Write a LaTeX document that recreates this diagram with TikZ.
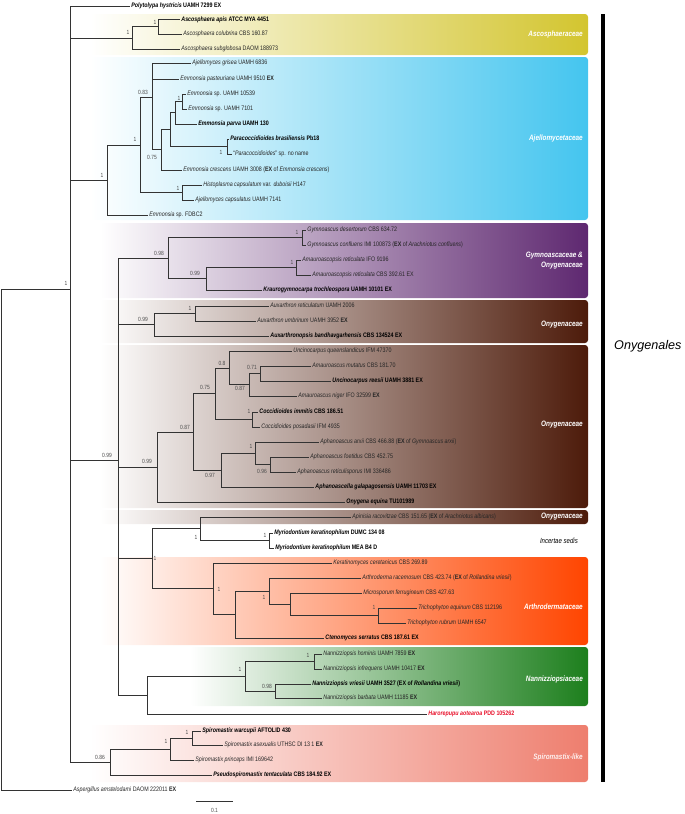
\documentclass[tikz,border=0pt]{standalone}
\usepackage{fontspec}
\setmainfont{Liberation Sans}[FakeStretch=0.82]
\newfontfamily\plainsans{Liberation Sans}
\definecolor{cYel}{HTML}{D3C52F}
\definecolor{cBlue}{HTML}{44C5EF}
\definecolor{cPur}{HTML}{5E2870}
\definecolor{cBrn}{HTML}{4D1B0A}
\definecolor{cOra}{HTML}{FF4500}
\definecolor{cGrn}{HTML}{1D7F1D}
\definecolor{cSal}{HTML}{EE7E6E}
\definecolor{cRed}{HTML}{E8102A}
\definecolor{cLine}{HTML}{333333}
\newcommand{\spc}[1]{\textit{#1}}
\newcommand{\exb}{\textbf{EX}}
\tikzset{
  tip/.style={anchor=west, inner xsep=1.2pt, inner ysep=0pt, text height=4.6pt, text depth=1.4pt,
              font=\fontsize{6.5}{7}\selectfont, text=black!85},
  tipb/.style={tip, font=\fontsize{6.5}{7}\selectfont\bfseries, text=black},
  nl/.style={inner sep=0pt, font=\fontsize{6}{6}\selectfont, text=black!70},
  br/.style={draw=cLine, line width=0.65pt},
  fam/.style={anchor=east, inner sep=0pt, text=white, align=right,
              font=\fontsize{7.8}{9.5}\selectfont\bfseries\itshape},
  famshade/.style={rounded corners=3pt, left color=white, middle color=#1!40, right color=#1}
}
\begin{document}
\begin{tikzpicture}[x=1pt,y=-1pt]
\useasboundingbox (0,0) rectangle (685,814);
% ---------- coloured boxes ----------
\shade[famshade=cYel] (90,14) rectangle (588,55);
\shade[famshade=cBlue] (90,57) rectangle (588,220);
\shade[famshade=cPur] (100,223) rectangle (588,298);
\shade[famshade=cBrn] (100,300) rectangle (588,343);
\shade[famshade=cBrn] (100,345) rectangle (588,508);
\shade[famshade=cBrn] (100,510) rectangle (588,524);
\shade[famshade=cOra] (100,557) rectangle (588,645);
\shade[rounded corners=3pt, left color=white, middle color=cGrn!40, right color=cGrn] (190,647) rectangle (588,706);
\shade[famshade=cSal] (90,725) rectangle (588,782);
% ---------- bar ----------
\fill[black] (601,14) rectangle (605,782);
% ---------- tips ----------
\node[tipb] (t01) at (130,6) {\spc{Polytolypa hystricis} UAMH 7299 EX};
\node[tipb] (t02) at (180,19.5) {\spc{Ascosphaera apis} ATCC MYA 4451};
\node[tip] (t03) at (182,34) {\spc{Ascosphaera colubrina} CBS 160.87};
\node[tip] (t04) at (180,49) {\spc{Ascosphaera subglobosa} DAOM 188973};
\node[tip] (t05) at (191,63) {\spc{Ajellomyces grisea} UAMH 6836};
\node[tip] (t06) at (179,79) {\spc{Emmonsia pasteuriana} UAMH 9510 \exb};
\node[tip] (t07) at (186,94) {\spc{Emmonsia} sp. UAMH 10539};
\node[tip] (t08) at (187,109) {\spc{Emmonsia} sp. UAMH 7101};
\node[tipb] (t09) at (197,124) {\spc{Emmonsia parva} UAMH 130};
\node[tipb] (t10) at (229,139) {\spc{Paracoccidioides brasiliensis} Pb18};
\node[tip] (t11) at (232,154) {“\spc{Paracoccidioides}” sp. no name};
\node[tip] (t12) at (182,170) {\spc{Emmonsia crescens} UAMH 3008 (\exb{} of \spc{Emmonsia crescens})};
\node[tip] (t13) at (202,185) {\spc{Histoplasma capsulatum} var. \spc{duboisii} H147};
\node[tip] (t14) at (194,200) {\spc{Ajellomyces capsulatus} UAMH 7141};
\node[tip] (t15) at (148,215) {\spc{Emmonsia} sp. FDBC2};
\node[tip] (t16) at (306,230) {\spc{Gymnoascus desertorum} CBS 634.72};
\node[tip] (t17) at (306,245) {\spc{Gymnoascus confluens} IMI 100873 (\exb{} of \spc{Arachniotus confluens})};
\node[tip] (t18) at (301,260) {\spc{Amauroascopsis reticulata} IFO 9196};
\node[tip] (t19) at (311,275) {\spc{Amauroascopsis reticulata} CBS 392.61 EX};
\node[tipb] (t20) at (262,290) {\spc{Kraurogymnocarpa trochleospora} UAMH 10101 EX};
\node[tip] (t21) at (269,306) {\spc{Auxarthron reticulatum} UAMH 2006};
\node[tip] (t22) at (256,321) {\spc{Auxarthron umbrinum} UAMH 3952 \exb};
\node[tipb] (t23) at (269,336) {\spc{Auxarthronopsis bandhavgarhensis} CBS 134524 EX};
\node[tip] (t24) at (292,351) {\spc{Uncinocarpus queenslandicus} IFM 47370};
\node[tip] (t25) at (311,366) {\spc{Amauroascus mutatus} CBS 181.70};
\node[tipb] (t26) at (331,381) {\spc{Uncinocarpus reesii} UAMH 3881 EX};
\node[tip] (t27) at (297,396) {\spc{Amauroascus niger} IFO 32599 \exb};
\node[tipb] (t28) at (258,412) {\spc{Coccidioides immitis} CBS 186.51};
\node[tip] (t29) at (260,427) {\spc{Coccidioides posadasii} IFM 4935};
\node[tip] (t30) at (319,442) {\spc{Aphanoascus arxii} CBS 466.88 (\exb{} of \spc{Gymnoascus arxii})};
\node[tip] (t31) at (309,457) {\spc{Aphanoascus foetidus} CBS 452.75};
\node[tip] (t32) at (296,472) {\spc{Aphanoascus reticulisporus} IMI 336486};
\node[tipb] (t33) at (314,487) {\spc{Aphanoascella galapagosensis} UAMH 11703 EX};
\node[tipb] (t34) at (345,502) {\spc{Onygena equina} TU101989};
\node[tip] (t35) at (351,517) {\spc{Apinisia racovitzae} CBS 151.65 (\exb{} of \spc{Arachniotus albicans})};
\node[tipb] (t36) at (273,533) {\spc{Myriodontium keratinophilum} DUMC 134 08};
\node[tipb] (t37) at (274,548) {\spc{Myriodontium keratinophilum} MEA B4 D};
\node[tip] (t38) at (332,563) {\spc{Keratinomyces ceretanicus} CBS 269.89};
\node[tip] (t39) at (361,578) {\spc{Arthroderma racemosum} CBS 423.74 (\exb{} of \spc{Rollandina vriesii})};
\node[tip] (t40) at (362,593) {\spc{Microsporum ferrugineum} CBS 427.63};
\node[tip] (t41) at (417,608) {\spc{Trichophyton equinum} CBS 112196};
\node[tip] (t42) at (406,623) {\spc{Trichophyton rubrum} UAMH 6547};
\node[tipb] (t43) at (324,638) {\spc{Ctenomyces serratus} CBS 187.61 EX};
\node[tip] (t44) at (322,654) {\spc{Nannizziopsis hominis} UAMH 7859 \exb};
\node[tip] (t45) at (322,669) {\spc{Nannizziopsis infrequens} UAMH 10417 \exb};
\node[tipb] (t46) at (311,684) {\spc{Nannizziopsis vriesii} UAMH 3527 (EX of \spc{Rollandina vriesii})};
\node[tip] (t47) at (322,698) {\spc{Nannizziopsis barbata} UAMH 11185 \exb};
\node[tipb, text=cRed] (t48) at (427,714) {\spc{Harorepupu aotearoa} PDD 105262};
\node[tipb] (t49) at (201,731) {\spc{Spiromastix warcupii} AFTOLID 430};
\node[tip] (t50) at (223,745) {\spc{Spiromastix asexualis} UTHSC DI 13 1 \exb};
\node[tip] (t51) at (194,760) {\spc{Spiromastix princeps} IMI 169642};
\node[tipb] (t52) at (212,775) {\spc{Pseudospiromastix tentaculata} CBS 184.92 EX};
\node[tip] (t53) at (72,790) {\spc{Aspergillus amstelodami} DAOM 222011 \exb};
% ---------- internal nodes ----------
\coordinate (root) at (1.5,289.3);
\coordinate (n70) at (70,289.3);
\coordinate (asco) at (132,37.9);
\coordinate (ascosub) at (158,26.75);
\coordinate (aj) at (107,180);
\coordinate (aj2) at (140,144.9);
\coordinate (aj3) at (152,97.3);
\coordinate (aj4) at (161,149.8);
\coordinate (e3) at (170,129.6);
\coordinate (e2) at (175,112.75);
\coordinate (e1) at (182,101.5);
\coordinate (para) at (227,146.5);
\coordinate (histo) at (182,192.5);
\coordinate (big) at (118,460.7);
\coordinate (g4) at (168,258.1);
\coordinate (g1) at (302,237.5);
\coordinate (g3) at (206,278.75);
\coordinate (g2) at (296,267.5);
\coordinate (a2) at (154,324.75);
\coordinate (a1) at (195,313.5);
\coordinate (o6) at (157,466.9);
\coordinate (o5) at (193,431.9);
\coordinate (o4) at (215,393.7);
\coordinate (o3) at (229,367.9);
\coordinate (o2) at (249,384.75);
\coordinate (o1) at (260,373.5);
\coordinate (cocc) at (252,419.5);
\coordinate (ap3) at (221,470.1);
\coordinate (ap2) at (255,453.25);
\coordinate (ap1) at (270,464.5);
\coordinate (my1) at (152,558.8);
\coordinate (mz) at (200,528.75);
\coordinate (myp) at (269,540.5);
\coordinate (arth) at (213,588.8);
\coordinate (ar2) at (235,614.6);
\coordinate (ar3) at (269,591.1);
\coordinate (n290) at (290,604.25);
\coordinate (tp) at (378,615.5);
\coordinate (nh) at (147,695.1);
\coordinate (nz3) at (245,676.25);
\coordinate (nz1) at (314,661.5);
\coordinate (nz2) at (275,691);
\coordinate (spi) at (110,762);
\coordinate (ss) at (170,749);
\coordinate (sp) at (192,738);
% ---------- branches ----------
\begin{scope}[br]
\draw (root) |- (n70); \draw (root) |- (t53.west);
\draw (n70) |- (t01.west); \draw (n70) |- (asco); \draw (n70) |- (aj); \draw (n70) |- (big); \draw (n70) |- (spi);
\draw (asco) |- (ascosub); \draw (asco) |- (t04.west);
\draw (ascosub) |- (t02.west); \draw (ascosub) |- (t03.west);
\draw (aj) |- (aj2); \draw (aj) |- (t15.west);
\draw (aj2) |- (aj3); \draw (aj2) |- (histo);
\draw (aj3) |- (t05.west); \draw (aj3) |- (t06.west); \draw (aj3) |- (aj4);
\draw (aj4) |- (e3); \draw (aj4) |- (t12.west);
\draw (e3) |- (e2); \draw (e3) |- (para);
\draw (e2) |- (e1); \draw (e2) |- (t09.west);
\draw (e1) |- (t07.west); \draw (e1) |- (t08.west);
\draw (para) |- (t10.west); \draw (para) |- (t11.west);
\draw (histo) |- (t13.west); \draw (histo) |- (t14.west);
\draw (big) |- (g4); \draw (big) |- (a2); \draw (big) |- (o6); \draw (big) |- (my1); \draw (big) |- (nh);
\draw (g4) |- (g1); \draw (g4) |- (g3);
\draw (g1) |- (t16.west); \draw (g1) |- (t17.west);
\draw (g3) |- (g2); \draw (g3) |- (t20.west);
\draw (g2) |- (t18.west); \draw (g2) |- (t19.west);
\draw (a2) |- (a1); \draw (a2) |- (t23.west);
\draw (a1) |- (t21.west); \draw (a1) |- (t22.west);
\draw (o6) |- (o5); \draw (o6) |- (t34.west);
\draw (o5) |- (o4); \draw (o5) |- (ap3);
\draw (o4) |- (o3); \draw (o4) |- (cocc);
\draw (o3) |- (t24.west); \draw (o3) |- (o2);
\draw (o2) |- (o1); \draw (o2) |- (t27.west);
\draw (o1) |- (t25.west); \draw (o1) |- (t26.west);
\draw (cocc) |- (t28.west); \draw (cocc) |- (t29.west);
\draw (ap3) |- (ap2); \draw (ap3) |- (t33.west);
\draw (ap2) |- (t30.west); \draw (ap2) |- (ap1);
\draw (ap1) |- (t31.west); \draw (ap1) |- (t32.west);
\draw (my1) |- (mz); \draw (my1) |- (arth);
\draw (mz) |- (t35.west); \draw (mz) |- (myp);
\draw (myp) |- (t36.west); \draw (myp) |- (t37.west);
\draw (arth) |- (t38.west); \draw (arth) |- (ar2);
\draw (ar2) |- (ar3); \draw (ar2) |- (t43.west);
\draw (ar3) |- (t39.west); \draw (ar3) |- (n290);
\draw (n290) |- (t40.west); \draw (n290) |- (tp);
\draw (tp) |- (t41.west); \draw (tp) |- (t42.west);
\draw (nh) |- (nz3); \draw (nh) |- (t48.west);
\draw (nz3) |- (nz1); \draw (nz3) |- (nz2);
\draw (nz1) |- (t44.west); \draw (nz1) |- (t45.west);
\draw (nz2) |- (t46.west); \draw (nz2) |- (t47.west);
\draw (spi) |- (ss); \draw (spi) |- (t52.west);
\draw (ss) |- (sp); \draw (ss) |- (t51.west);
\draw (sp) |- (t49.west); \draw (sp) |- (t50.west);
\end{scope}
% ---------- support values ----------
\node[nl] (l00) at (66,283) {1};
\node[nl] (l01) at (128,32) {1};
\node[nl] (l02) at (155,22) {1};
\node[nl] (l03) at (102,175) {1};
\node[nl] (l04) at (135,139) {1};
\node[nl] (l05) at (143,92) {0.83};
\node[nl] (l06) at (152,157) {0.75};
\node[nl] (l07) at (179,98) {1};
\node[nl] (l08) at (221,152) {1};
\node[nl] (l09) at (178,188) {1};
\node[nl] (l10) at (159,253) {0.98};
\node[nl] (l11) at (297,232) {1};
\node[nl] (l12) at (292,262) {1};
\node[nl] (l13) at (195,273) {0.99};
\node[nl] (l14) at (143,319) {0.99};
\node[nl] (l15) at (190,308) {1};
\node[nl] (l16) at (107,455) {0.99};
\node[nl] (l17) at (147,461) {0.99};
\node[nl] (l18) at (185,427) {0.87};
\node[nl] (l19) at (205,387) {0.75};
\node[nl] (l20) at (222,363) {0.8};
\node[nl] (l21) at (252,367) {0.71};
\node[nl] (l22) at (240,388) {0.87};
\node[nl] (l23) at (249,411) {1};
\node[nl] (l24) at (251,446) {1};
\node[nl] (l25) at (262,471) {0.96};
\node[nl] (l26) at (210,475) {0.97};
\node[nl] (l27) at (196,537) {1};
\node[nl] (l28) at (265,535) {1};
\node[nl] (l29) at (155,558) {1};
\node[nl] (l30) at (219,589) {1};
\node[nl] (l31) at (264,597) {1};
\node[nl] (l32) at (374,607) {1};
\node[nl] (l33) at (308,655) {1};
\node[nl] (l34) at (267,686) {0.98};
\node[nl] (l35) at (240,669) {1};
\node[nl] (l36) at (100,757) {0.86};
\node[nl] (l37) at (166,741) {1};
\node[nl] (l38) at (187,732) {1};
% ---------- family labels ----------
\node[fam] (f1) at (583,34) {Ascosphaeraceae};
\node[fam] (f2) at (583,138) {Ajellomycetaceae};
\node[fam] (f3) at (583,260.5) {Gymnoascaceae \&\\Onygenaceae};
\node[fam] (f4) at (583,325) {Onygenaceae};
\node[fam] (f5) at (583,425) {Onygenaceae};
\node[fam] (f6) at (583,517) {Onygenaceae};
\node[fam, text=black, font=\fontsize{7.4}{8}\selectfont\itshape] (f7) at (578,541) {Incertae sedis};
\node[fam] (f8) at (583,607) {Arthrodermataceae};
\node[fam] (f9) at (583,679) {Nannizziopsiaceae};
\node[fam, text=white!88!cSal] (f10) at (583,757) {Spiromastix-like};
\node[anchor=west, inner sep=0pt, font=\plainsans\fontsize{12.6}{14}\selectfont\itshape] (ony) at (614,346) {Onygenales};
% ---------- scale bar ----------
\coordinate (sb1) at (196,801);
\coordinate (sb2) at (233,801);
\draw[br] (sb1) -- (sb2);
\node[nl] (sbl) at (214.5,810) {0.1};
\end{tikzpicture}
\end{document}
